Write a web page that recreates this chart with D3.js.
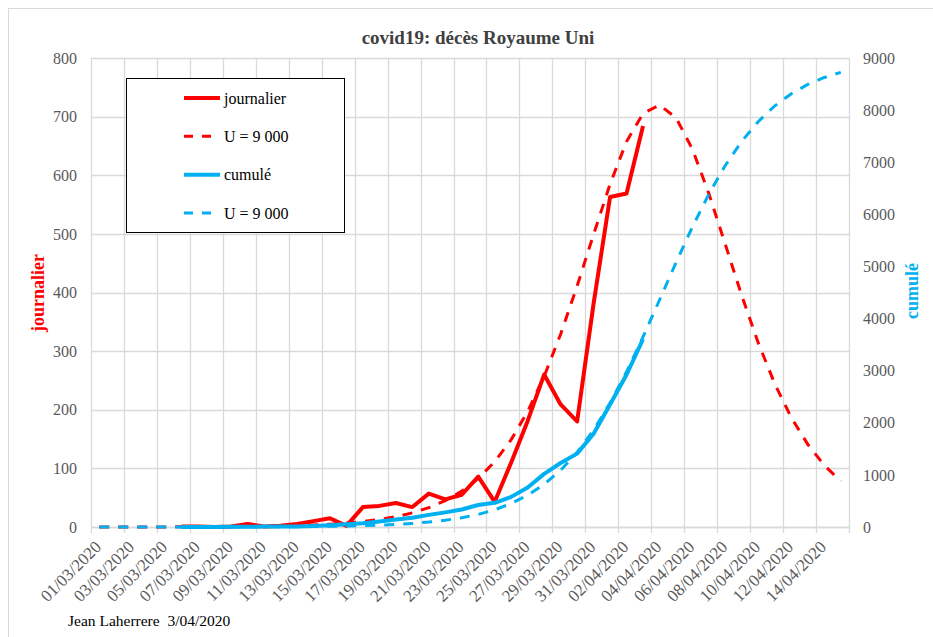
<!DOCTYPE html>
<html>
<head>
<meta charset="utf-8">
<script src="https://cdnjs.cloudflare.com/ajax/libs/d3/7.8.5/d3.min.js"></script>
<style>
  body { margin: 0; background: #fff; }
  svg text { font-family: "Liberation Serif", "Times New Roman", serif; }
</style>
</head>
<body>
<div id="chart"></div>
<script>
// dates on the category axis (one per day)
const dates = [
  "01/03/2020", "02/03/2020", "03/03/2020", "04/03/2020", "05/03/2020", "06/03/2020",
  "07/03/2020", "08/03/2020", "09/03/2020", "10/03/2020", "11/03/2020", "12/03/2020",
  "13/03/2020", "14/03/2020", "15/03/2020", "16/03/2020", "17/03/2020", "18/03/2020",
  "19/03/2020", "20/03/2020", "21/03/2020", "22/03/2020", "23/03/2020", "24/03/2020",
  "25/03/2020", "26/03/2020", "27/03/2020", "28/03/2020", "29/03/2020", "30/03/2020",
  "31/03/2020", "01/04/2020", "02/04/2020", "03/04/2020", "04/04/2020", "05/04/2020",
  "06/04/2020", "07/04/2020", "08/04/2020", "09/04/2020", "10/04/2020", "11/04/2020",
  "12/04/2020", "13/04/2020", "14/04/2020", "15/04/2020"
];

// daily deaths (reported), null = no data
const journalier = [
  null, null, null, null, null, 1, 1, 0, 1, 5, 1, 2,
  5, 10, 15, 2, 34, 36, 41, 34, 57, 47, 55, 86,
  43, 110, 181, 260, 209, 180, 381, 563, 569, 684,
  null, null, null, null, null, null, null, null, null, null, null, null
];

// daily model, U = 9 000
const journalierModele = [
  0, 0, 0.1, 0.1, 0.2, 0.3, 0.4, 0.5, 0.7, 1.0, 1.4, 1.9,
  2.6, 3.6, 4.9, 6.8, 9.3, 12.8, 17.5, 24.1, 32.9, 45.0, 61.2, 82.8,
  111.6, 149.1, 197.1, 257.0, 328.9, 411.1, 499.1, 584.8, 657.4, 705.3, 719.8, 698.2,
  644.5, 568.3, 481.4, 394.0, 313.6, 244.0, 186.6, 140.9, 105.2, 78.0
];

// cumulative deaths
const cumule = [
  null, null, null, null, null, 1, 2, 2, 3, 6, 8, 8,
  10, 21, 35, 55, 71, 104, 144, 177, 233, 281, 335, 422,
  465, 578, 759, 1019, 1228, 1408, 1789, 2352, 2921, 3605,
  null, null, null, null, null, null, null, null, null, null, null, null
];

// cumulative model, U = 9 000
const cumuleModele = [
  0.2, 0.2, 0.3, 0.4, 0.6, 0.8, 1.1, 1.5, 2.1, 2.8, 3.9, 5,
  7, 10, 14, 19, 27, 36, 50, 69, 95, 130, 177, 242,
  331, 450, 611, 817, 1088, 1433, 1862, 2378, 2978, 3647, 4356, 5073,
  5761, 6391, 6942, 7406, 7783, 8083, 8315, 8492, 8626, 8724
];

const leftTicks = [0, 100, 200, 300, 400, 500, 600, 700, 800];
const rightTicks = [0, 1000, 2000, 3000, 4000, 5000, 6000, 7000, 8000, 9000];

const legendItems = [
  { label: "journalier", color: "#FF0000", dash: null },
  { label: "U = 9 000", color: "#FF0000", dash: "9,9" },
  { label: "cumulé", color: "#00B0F0", dash: null },
  { label: "U = 9 000", color: "#00B0F0", dash: "9,9" }
];

const width = 933, height = 637;
const plot = { left: 91, right: 849, top: 58, bottom: 527 };
const red = "#FF0000", blue = "#00B0F0", grid = "#D9D9D9", tickColor = "#595959";
const serif = "'Liberation Serif', 'Times New Roman', serif";

const svg = d3.select("#chart")
  .append("svg")
  .attr("width", width)
  .attr("height", height)
  .style("font-family", serif);

// chart frame
svg.append("rect")
  .attr("x", 8.5).attr("y", 8.5)
  .attr("width", 940).attr("height", 650)
  .attr("fill", "none")
  .attr("stroke", grid);

const x = d3.scaleBand()
  .domain(dates)
  .range([plot.left, plot.right])
  .padding(0);

const cx = d => x(d) + x.bandwidth() / 2;

const yLeft = d3.scaleLinear().domain([0, 800]).range([plot.bottom, plot.top]);
const yRight = d3.scaleLinear().domain([0, 9000]).range([plot.bottom, plot.top]);

// gridlines
svg.append("g")
  .selectAll("line")
  .data(leftTicks)
  .join("line")
  .attr("x1", plot.left).attr("x2", plot.right)
  .attr("y1", d => Math.round(yLeft(d)) + 0.5)
  .attr("y2", d => Math.round(yLeft(d)) + 0.5)
  .attr("stroke", grid)
  .attr("stroke-width", 1.3);

const vGrid = dates.filter((d, i) => i % 2 === 0).map(d => x(d)).concat([plot.right]);
svg.append("g")
  .selectAll("line")
  .data(vGrid)
  .join("line")
  .attr("x1", d => Math.round(d) + 0.5).attr("x2", d => Math.round(d) + 0.5)
  .attr("y1", plot.top).attr("y2", plot.bottom + 6)
  .attr("stroke", grid)
  .attr("stroke-width", 1.3);

// left axis
const gLeft = svg.append("g")
  .attr("transform", `translate(${plot.left},0)`)
  .call(d3.axisLeft(yLeft).tickValues(leftTicks).tickSize(0).tickPadding(14));
gLeft.attr("font-family", serif).attr("font-size", 16);
gLeft.select(".domain").remove();
gLeft.selectAll("text").attr("fill", tickColor);

// right axis
const gRight = svg.append("g")
  .attr("transform", `translate(${plot.right},0)`)
  .call(d3.axisRight(yRight).tickValues(rightTicks).tickFormat(d3.format("d")).tickSize(0).tickPadding(14));
gRight.attr("font-family", serif).attr("font-size", 16);
gRight.select(".domain").remove();
gRight.selectAll("text").attr("fill", tickColor);

// bottom axis
const gBottom = svg.append("g")
  .attr("transform", `translate(0,${plot.bottom})`)
  .call(d3.axisBottom(x).tickValues(dates.filter((d, i) => i % 2 === 0)).tickSize(0));
gBottom.attr("font-family", serif).attr("font-size", 17);
gBottom.select(".domain")
  .attr("stroke", grid)
  .attr("stroke-width", 1.3);
gBottom.selectAll("text")
  .attr("fill", tickColor)
  .attr("x", 0).attr("y", 0).attr("dy", 0)
  .attr("text-anchor", "end")
  .attr("transform", "translate(3,21) rotate(-45)");

// lines
const lineLeft = d3.line()
  .defined(d => d.v != null)
  .x(d => cx(d.date))
  .y(d => yLeft(d.v));
const lineRight = d3.line()
  .defined(d => d.v != null)
  .x(d => cx(d.date))
  .y(d => yRight(d.v));

const pair = arr => dates.map((d, i) => ({ date: d, v: arr[i] }));

svg.append("path")
  .datum(pair(journalier))
  .attr("d", lineLeft)
  .attr("fill", "none")
  .attr("stroke", red)
  .attr("stroke-width", 4)
  .attr("stroke-linejoin", "round");

svg.append("path")
  .datum(pair(journalierModele))
  .attr("d", lineLeft)
  .attr("fill", "none")
  .attr("stroke", red)
  .attr("stroke-width", 3)
  .attr("stroke-dasharray", "10,9");

svg.append("path")
  .datum(pair(cumule))
  .attr("d", lineRight)
  .attr("fill", "none")
  .attr("stroke", blue)
  .attr("stroke-width", 4)
  .attr("stroke-linejoin", "round");

svg.append("path")
  .datum(pair(cumuleModele))
  .attr("d", lineRight)
  .attr("fill", "none")
  .attr("stroke", blue)
  .attr("stroke-width", 3)
  .attr("stroke-dasharray", "10,9");

// title
svg.append("text")
  .attr("x", 478).attr("y", 44)
  .attr("text-anchor", "middle")
  .attr("fill", "#404040")
  .attr("font-size", 19)
  .attr("font-weight", "bold")
  .text("covid19: décès Royaume Uni");

// axis titles
svg.append("text")
  .attr("transform", "translate(44,293) rotate(-90)")
  .attr("text-anchor", "middle")
  .attr("fill", red)
  .attr("font-size", 18)
  .attr("font-weight", "bold")
  .text("journalier");

svg.append("text")
  .attr("transform", "translate(918,291) rotate(-90)")
  .attr("text-anchor", "middle")
  .attr("fill", blue)
  .attr("font-size", 18)
  .attr("font-weight", "bold")
  .text("cumulé");

// legend
const legend = svg.append("g");
legend.append("rect")
  .attr("x", 126.5).attr("y", 78.5)
  .attr("width", 218).attr("height", 154)
  .attr("fill", "#fff")
  .attr("stroke", "#000")
  .attr("stroke-width", 1);

const rowY = d3.scalePoint().domain(d3.range(legendItems.length)).range([98, 213]);
const rows = legend.selectAll("g.row")
  .data(legendItems)
  .join("g")
  .attr("class", "row")
  .attr("transform", (d, i) => `translate(0,${rowY(i)})`);

rows.append("line")
  .attr("x1", 184).attr("x2", 220)
  .attr("y1", 0).attr("y2", 0)
  .attr("stroke", d => d.color)
  .attr("stroke-width", d => d.dash ? 3 : 4)
  .attr("stroke-dasharray", d => d.dash);

rows.append("text")
  .attr("x", 224).attr("y", 0)
  .attr("dy", "0.35em")
  .attr("fill", "#000")
  .attr("font-size", 16)
  .text(d => d.label);

// footer
svg.append("text")
  .attr("x", 68).attr("y", 626)
  .attr("fill", "#000")
  .attr("font-size", 15.5)
  .style("white-space", "pre")
  .text("Jean Laherrere  3/04/2020");
</script>
</body>
</html>
